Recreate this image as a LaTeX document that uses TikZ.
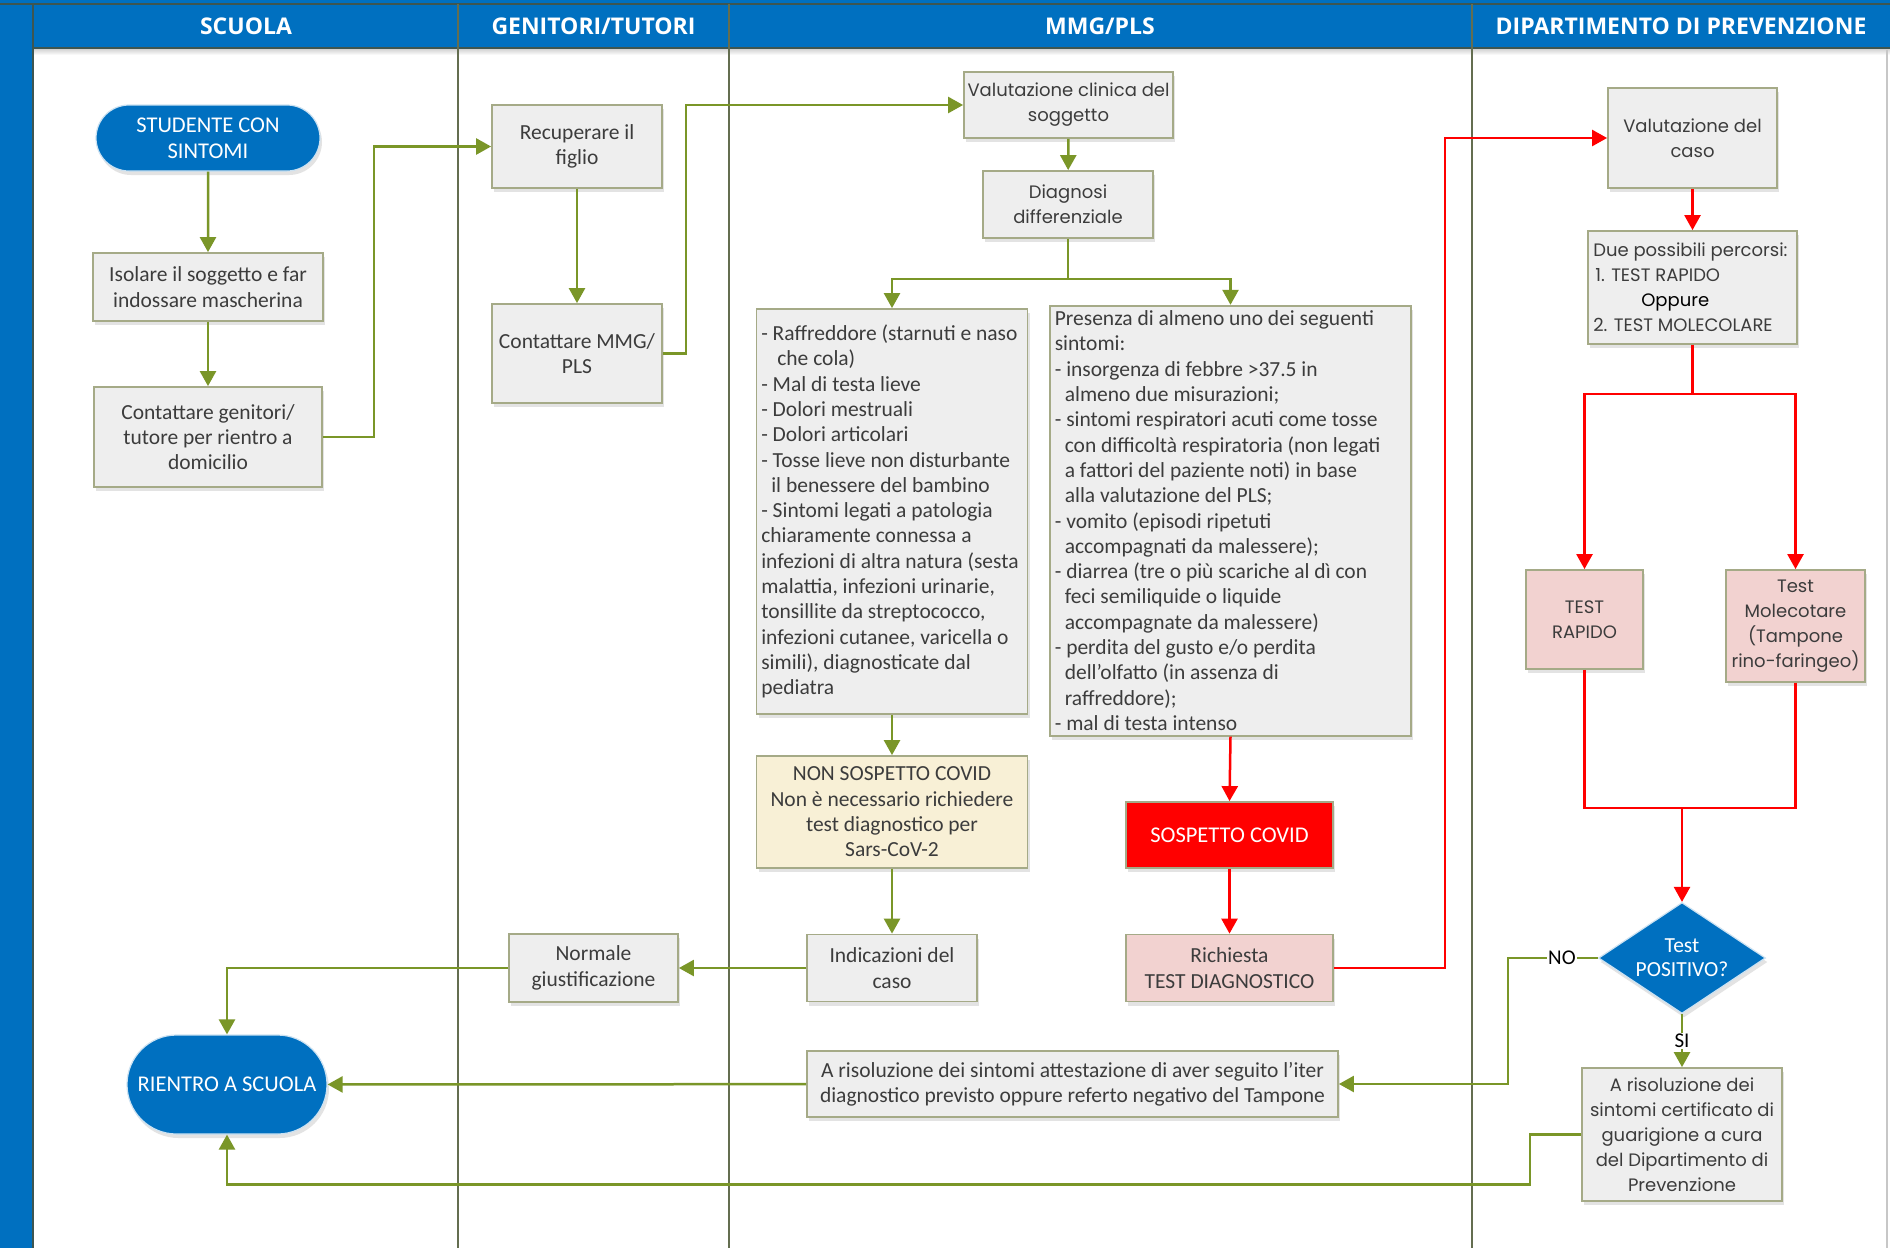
\documentclass[tikz,border=0pt]{standalone}
\usepackage{fontspec}
\setmainfont{Carlito}
\newfontfamily\gothf{Poppins}
\newfontfamily\hdrf{Open Sans}
\usetikzlibrary{arrows.meta,shapes.geometric,shapes.misc,shadows}
\definecolor{bblue}{RGB}{0,112,192}
\definecolor{dkline}{RGB}{62,86,80}
\definecolor{lanec}{RGB}{100,110,80}
\definecolor{bord}{RGB}{165,170,135}
\definecolor{boxg}{RGB}{238,238,238}
\definecolor{pinkf}{RGB}{242,210,208}
\definecolor{yelf}{RGB}{248,240,214}
\definecolor{txt}{RGB}{60,60,60}
\definecolor{grn}{RGB}{122,150,40}
\definecolor{redc}{RGB}{255,0,0}
\tikzset{
  shad/.style={drop shadow={shadow xshift=2pt,shadow yshift=-4pt,opacity=0.22}},
  box/.style={shad,draw=bord,line width=1.8pt,fill=boxg,inner sep=2pt,align=center,text=txt,
    font={\fontsize{21.5}{25.3}\selectfont}},
  gbox/.style={box,font={\gothf\fontsize{18}{25}\selectfont}},
  pbox/.style={fill=pinkf},
  stad/.style={shad,rounded rectangle,fill=bblue,draw=white!80!bblue,line width=1.2pt,text=white,align=center,
    font={\fontsize{22.5}{26}\selectfont},inner sep=2pt},
  hdr/.style={text=white,font={\hdrf\bfseries\fontsize{23}{26}\selectfont}},
  ltxt/.style={anchor=west,inner sep=0pt,align=left,text=txt,font={\fontsize{21.5}{25.3}\selectfont}},
  lbl/.style={fill=white,inner sep=1pt,text=black,font={\fontsize{21}{24}\selectfont}},
  gline/.style={draw=grn,line width=2.5pt},
  garrow/.style={gline,-{Triangle[length=15pt,width=16pt]}},
  rline/.style={draw=redc,line width=2.5pt},
  rarrow/.style={rline,-{Triangle[length=15pt,width=16pt]}},
}
\begin{document}
\begin{tikzpicture}[x=1pt,y=-1pt]
\useasboundingbox (0,0) rectangle (1890,1248);
\fill[white] (0,0) rectangle (1890,1248);
% lanes frame
\fill[bblue] (0,0) rectangle (33,1248);
\fill[bblue] (0,0) rectangle (1890,48);
\shade[top color=black!20,bottom color=white] (34,48) rectangle (1890,55);
\draw[dkline,line width=2pt] (0,4) -- (1890,4);
\draw[dkline,line width=2pt] (33,48) -- (1890,48);
\draw[dkline,line width=2pt] (33,4) -- (33,1248);
\foreach \x in {458,729,1472} \draw[lanec,line width=1.6pt] (\x,4) -- (\x,1248);
\draw[black!22,line width=1.5pt] (1887,50) -- (1887,1248);
% headers
\node[hdr] (h1) at (246,26) {SCUOLA};
\node[hdr] (h2) at (593.5,26) {GENITORI/TUTORI};
\node[hdr] (h3) at (1100,26) {MMG/PLS};
\node[hdr] (h4) at (1681,26) {DIPARTIMENTO DI PREVENZIONE};
% SCUOLA
\node[stad,minimum width=228pt,minimum height=66pt] (stud) at (208,138) {STUDENTE CON\\SINTOMI};
\node[box,minimum width=230pt,minimum height=68pt] (isol) at (208,287) {Isolare il soggetto e far\\indossare mascherina};
\node[box,minimum width=228pt,minimum height=100pt] (cgen) at (208,437) {Contattare genitori/\\tutore per rientro a\\domicilio};
\node[stad,minimum width=204pt,minimum height=99pt] (rientro) at (227,1084.5) {RIENTRO A SCUOLA};
% GENITORI
\node[box,minimum width=170pt,minimum height=83pt] (recu) at (577,146.5) {Recuperare il\\figlio};
\node[box,minimum width=170pt,minimum height=99pt] (cmmg) at (577,353.5) {Contattare MMG/\\PLS};
\node[box,minimum width=169pt,minimum height=68pt] (norm) at (593.5,968) {Normale\\giustificazione};
% MMG
\node[gbox,minimum width=209pt,minimum height=66pt] (valc) at (1068.5,105) {Valutazione clinica del\\soggetto};
\node[gbox,minimum width=170pt,minimum height=67pt] (diag) at (1068,204.5) {Diagnosi\\differenziale};
\node[box,minimum width=271pt,minimum height=405pt] (lst1) at (892,511.5) {};
\node[ltxt] (lst1t) at ([xshift=5.5pt]lst1.west) {- Raffreddore (starnuti e naso\\
\hspace*{16pt}che cola)\\
- Mal di testa lieve\\
- Dolori mestruali\\
- Dolori articolari\\
- Tosse lieve non disturbante\\
\hspace*{10pt}il benessere del bambino\\
- Sintomi legati a patologia\\
chiaramente connessa a\\
infezioni di altra natura (sesta\\
malattia, infezioni urinarie,\\
tonsillite da streptococco,\\
infezioni cutanee, varicella o\\
simili), diagnosticate dal\\
pediatra};
\node[box,minimum width=361pt,minimum height=430pt] (lst2) at (1230.5,520.7) {};
\node[ltxt] (lst2t) at ([xshift=5.5pt]lst2.west) {Presenza di almeno uno dei seguenti\\
sintomi:\\
- insorgenza di febbre >37.5 in\\
\hspace*{10pt}almeno due misurazioni;\\
- sintomi respiratori acuti come tosse\\
\hspace*{10pt}con difficoltà respiratoria (non legati\\
\hspace*{10pt}a fattori del paziente noti) in base\\
\hspace*{10pt}alla valutazione del PLS;\\
- vomito (episodi ripetuti\\
\hspace*{10pt}accompagnati da malessere);\\
- diarrea (tre o più scariche al dì con\\
\hspace*{10pt}feci semiliquide o liquide\\
\hspace*{10pt}accompagnate da malessere)\\
- perdita del gusto e/o perdita\\
\hspace*{10pt}dell’olfatto (in assenza di\\
\hspace*{10pt}raffreddore);\\
- mal di testa intenso};
\node[box,fill=yelf,minimum width=271pt,minimum height=112pt] (nons) at (892,812) {NON SOSPETTO COVID\\Non è necessario richiedere\\test diagnostico per\\Sars-CoV-2};
\node[box,minimum width=170pt,minimum height=67pt] (indic) at (892,968) {Indicazioni del\\caso};
\node[box,fill=redc,text=white,minimum width=207pt,minimum height=66pt,font={\fontsize{22.5}{26}\selectfont}] (sosp) at (1229.5,835) {SOSPETTO COVID};
\node[box,pbox,minimum width=207pt,minimum height=67pt] (rich) at (1229.5,968) {Richiesta\\TEST DIAGNOSTICO};
\node[box,minimum width=531pt,minimum height=66pt] (ris) at (1072.5,1084) {A risoluzione dei sintomi attestazione di aver seguito l’iter\\diagnostico previsto oppure referto negativo del Tampone};
% DIPARTIMENTO
\node[gbox,minimum width=169pt,minimum height=100pt] (valcaso) at (1692.5,138) {Valutazione del\\caso};
\node[gbox,minimum width=209pt,minimum height=113pt] (due) at (1692.5,287.5) {};
\node[ltxt,font={\gothf\fontsize{18}{25}\selectfont}] (duet) at ([xshift=6pt]due.west) {Due possibili percorsi:\\
\hspace*{2pt}1. TEST RAPIDO\\
\hspace*{48pt}\textcolor{black}{Oppure}\\
2. TEST MOLECOLARE};
\node[gbox,pbox,minimum width=117pt,minimum height=99pt] (testr) at (1584.5,619.5) {TEST\\RAPIDO};
\node[gbox,pbox,minimum width=139pt,minimum height=112pt] (mol) at (1795.5,626) {Test\\Molecotare\\(Tampone\\rino-faringeo)};
\node[shad,diamond,fill=bblue,draw=white!80!bblue,line width=1.2pt,minimum width=167pt,minimum height=111pt,inner sep=0pt] (dec) at (1682,958) {};
\node[text=white,align=center,inner sep=0pt,font={\fontsize{21.5}{24}\selectfont}] (dect) at (dec.center) {Test\\POSITIVO?};
\node[gbox,minimum width=200pt,minimum height=133pt] (cert) at (1682,1134.5) {A risoluzione dei\\sintomi certificato di\\guarigione a cura\\del Dipartimento di\\Prevenzione};
\coordinate (mrg) at (1682,808);
% green connectors
\draw[garrow] (stud) -- (isol);
\draw[garrow] (isol) -- (cgen);
\draw[garrow] (cgen.east) -- ++(51,0) |- (recu.west);
\draw[garrow] (recu) -- (cmmg);
\draw[garrow] (cmmg.east) -- ++(23,0) |- (valc.west);
\draw[garrow] (valc) -- (diag);
\draw[garrow] (diag.south) -- ++(0,40) -| (lst1.north);
\draw[garrow] (diag.south) -- ++(0,40) -| (lst2.north);
\draw[garrow] (lst1) -- (nons);
\draw[garrow] (nons) -- (indic);
\draw[garrow] (indic) -- (norm);
\draw[garrow] (norm.west) -| (rientro.north);
\draw[garrow] (ris) -- (rientro);
\draw[garrow] (cert.west) -- ++(-51,0) -- ++(0,50) -| (rientro.south);
\draw[garrow] (dec.west) -- ++(-90,0) node[lbl,pos=0.4] (nol) {NO} |- (ris.east);
\draw[garrow] (dec.south) -- (cert.north) node[lbl,midway] (sil) {SI};
% red connectors
\draw[rarrow] (lst2.south) -- (sosp.north);
\draw[rarrow] (sosp) -- (rich);
\draw[rarrow] (rich.east) -- ++(111,0) |- (valcaso.west);
\draw[rarrow] (valcaso) -- (due);
\draw[rarrow] (due.south) -- ++(0,49) -| (testr.north);
\draw[rarrow] (due.south) -- ++(0,49) -| (mol.north);
\draw[rline] (testr.south) |- (mrg);
\draw[rline] (mol.south) |- (mrg);
\draw[rarrow] (mrg) -- (dec.north);
\end{tikzpicture}
\end{document}
